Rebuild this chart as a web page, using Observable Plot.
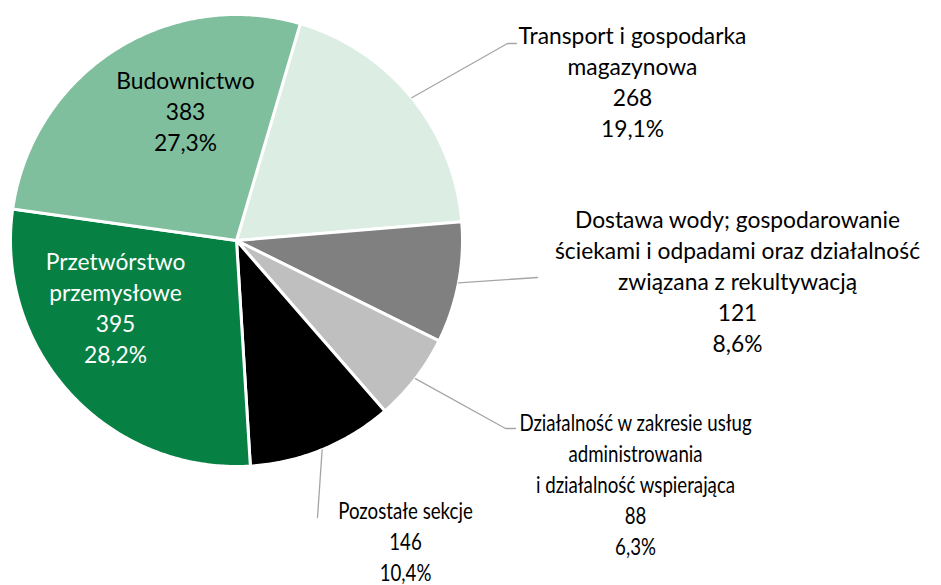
<!DOCTYPE html>
<html><head><meta charset="utf-8">
<script src="https://cdn.jsdelivr.net/npm/d3@7"></script>
<script src="https://cdn.jsdelivr.net/npm/@observablehq/plot@0.6"></script>
<style>body{margin:0;background:#fff} #chart svg{display:block}</style>
</head><body><div id="chart"></div>
<script>
// ---- data ----
const categories = [
  "Transport i gospodarka magazynowa",
  "Dostawa wody; gospodarowanie ściekami i odpadami oraz działalność związana z rekultywacją",
  "Działalność w zakresie usług administrowania i działalność wspierająca",
  "Pozostałe sekcje",
  "Przetwórstwo przemysłowe",
  "Budownictwo"
];
const labelText = [
  "Transport i gospodarka\nmagazynowa",
  "Dostawa wody; gospodarowanie\nściekami i odpadami oraz działalność\nzwiązana z rekultywacją",
  "Działalność w zakresie usług\nadministrowania\ni działalność wspierająca",
  "Pozostałe sekcje",
  "Przetwórstwo\nprzemysłowe",
  "Budownictwo"
];
const values = [268, 121, 88, 146, 395, 383];

// ---- styles ----
const colors = ["#dcede4", "#808080", "#bfbfbf", "#000000", "#068043", "#7fbf9e"];
const textColors = ["#000000", "#000000", "#000000", "#000000", "#ffffff", "#000000"];
const condensed = [false, false, true, true, false, false];
const FONT = "Lato, 'Open Sans', sans-serif";
const FONT_SIZE = 22.8;
const LINE_PX = 31;
const CONDENSE = 0.82;

// ---- layout (pixels) ----
const W = 941, H = 585, CX = 236, CY = 240, R = 226, START_DEG = 16.4;
const labelPos = [[632, 80.5], [737, 279.5], [635, 482.5], [405, 539.5], [115, 306.5], [185, 109.5]];
const leaderBends = [[[507, 43], [516, 43]], [[537, 277]], [[505, 428], [515, 428]], [[317, 517]], null, null];

const toU = px => (px - CX) / R;
const toV = py => (CY - py) / R;

const total = d3.sum(values);
const fmtPct = v => (Math.round(v / total * 1000) / 10).toFixed(1).replace(".", ",") + "%";

const start = START_DEG * Math.PI / 180;
const arcs = d3.pie().sort(null).startAngle(start).endAngle(start + 2 * Math.PI)(values);

// slice polygons
const slices = arcs.map((a, i) => {
  const pts = [{x: 0, y: 0}];
  const n = Math.max(2, Math.ceil((a.endAngle - a.startAngle) / 0.01));
  for (let k = 0; k <= n; k++) {
    const t = a.startAngle + (a.endAngle - a.startAngle) * k / n;
    pts.push({x: Math.sin(t), y: Math.cos(t)});
  }
  return {pts, fill: colors[i]};
});

// leader lines
const leaders = [];
arcs.forEach((a, i) => {
  if (!leaderBends[i]) return;
  const m = (a.startAngle + a.endAngle) / 2;
  leaders.push({id: i, x: Math.sin(m), y: Math.cos(m)});
  leaderBends[i].forEach(([px, py]) => leaders.push({id: i, x: toU(px), y: toV(py)}));
});

const labels = values.map((v, i) => ({
  x: toU(labelPos[i][0]),
  y: toV(labelPos[i][1]),
  text: labelText[i] + "\n" + v + "\n" + fmtPct(v),
  color: textColors[i],
  condensed: condensed[i]
}));

const textOpts = {
  x: "x", y: "y", text: "text", fill: "color",
  fontSize: FONT_SIZE, fontFamily: FONT, lineHeight: LINE_PX / FONT_SIZE,
  lineAnchor: "middle", textAnchor: "middle"
};

const marks = slices.map(s => Plot.line(s.pts, {
  x: "x", y: "y", curve: "linear-closed",
  fill: s.fill, stroke: "#ffffff", strokeWidth: 3, strokeLinejoin: "round"
}));
marks.push(Plot.line(leaders, {x: "x", y: "y", z: "id", stroke: "#a6a6a6", strokeWidth: 1.3}));
marks.push(Plot.text(labels.filter(d => !d.condensed), textOpts));
marks.push(Plot.text(labels.filter(d => d.condensed), {...textOpts, className: "condensed-labels"}));

const chart = Plot.plot({
  width: W, height: H,
  marginTop: 0, marginRight: 0, marginBottom: 0, marginLeft: 0,
  x: {domain: [toU(0), toU(W)], range: [0, W], axis: null},
  y: {domain: [toV(H), toV(0)], range: [H, 0], axis: null},
  color: {type: "identity"},
  style: {background: "#ffffff", fontFamily: FONT},
  marks
});
document.getElementById("chart").append(chart);
// horizontally condense the lower labels (same glyph height, narrower)
d3.select(chart).selectAll(".condensed-labels text").attr("transform", function () {
  return (this.getAttribute("transform") || "") + ` scale(${CONDENSE},1)`;
});
</script>
</body></html>
